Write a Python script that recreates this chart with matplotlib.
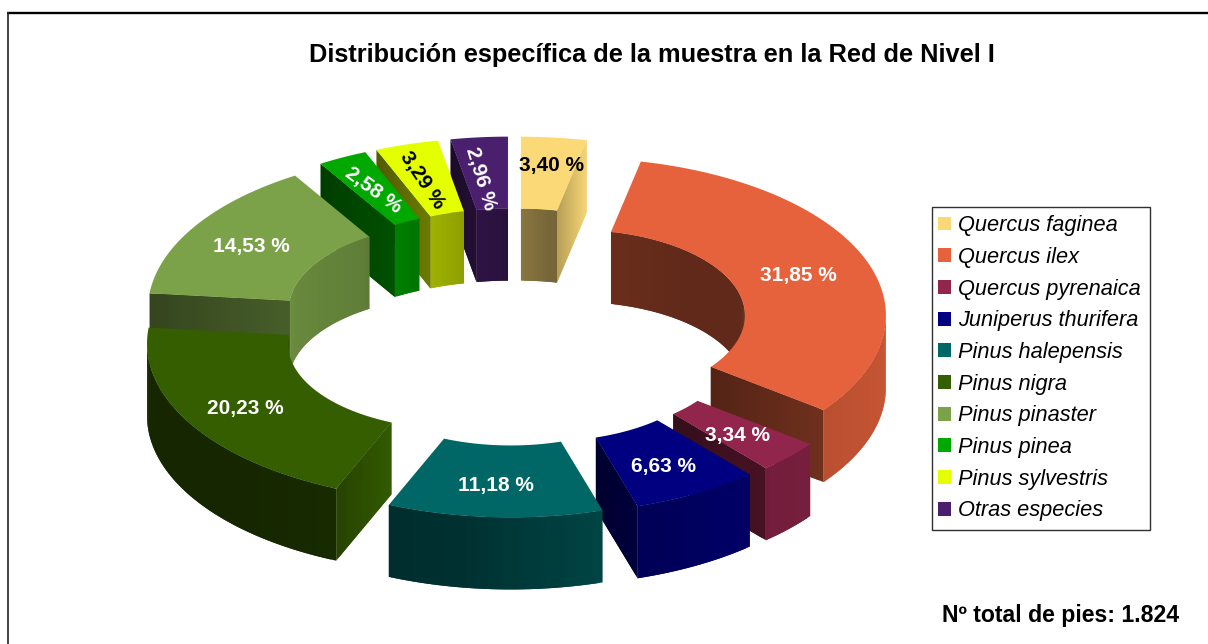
import numpy as np
import matplotlib
matplotlib.use("Agg")
import matplotlib.pyplot as plt
from matplotlib.collections import PolyCollection
from matplotlib.patches import Patch
from matplotlib.colors import to_rgb

species = ["Quercus faginea", "Quercus ilex", "Quercus pyrenaica", "Juniperus thurifera",
           "Pinus halepensis", "Pinus nigra", "Pinus pinaster", "Pinus pinea",
           "Pinus sylvestris", "Otras especies"]
percent = [3.40, 31.85, 3.34, 6.63, 11.18, 20.23, 14.53, 2.58, 3.29, 2.96]
colors = ["#FBD977", "#E5623C", "#92254B", "#000080", "#006666",
          "#355E00", "#7BA248", "#00A800", "#E3FF00", "#4A1F6E"]
label_colors = ["black", "white", "white", "white", "white",
                "white", "white", "white", "black", "white"]
label_rotation = [0, 0, 0, 0, 0, 0, 0, -36, -56, -73]
label_dx = [5, -2, 0, 1, -2, -6, -4, -1, -5, -5]
label_dy = [-8, 2, 3, 5, 4, 3, 1, 1, 1, 5]
title = "Distribución específica de la muestra en la Red de Nivel I"
total_note = "Nº total de pies: 1.824"

CX, CY = 514.0, 327.0
RX_OUT, RY_OUT = 311.0, 157.5
RX_IN, RY_IN = 170.0, 85.5
EX, EY = 65.0, 33.0
DEPTH = 72.0

plt.rcParams["font.family"] = ["Liberation Sans", "DejaVu Sans"]
fig = plt.figure(figsize=(12.08, 6.44), dpi=100)
ax = fig.add_axes([0, 0, 1, 1])
ax.set_xlim(0, 1208)
ax.set_ylim(644, 0)
ax.axis("off")


def brightness(normal):
    n = np.mod(normal, 360)
    return np.interp(n, [90, 145, 170, 190, 220, 270], [0.88, 0.78, 0.62, 0.47, 0.42, 0.42])


def shade(col, f):
    return tuple(min(1.0, c * f) for c in to_rgb(col))


def pt(t, rx, ry, ox, oy, z=0.0):
    a = np.radians(t)
    return (ox + rx * np.sin(a), oy - ry * np.cos(a) + z)


def wall_strip(ts, rx, ry, ox, oy, col, flip):
    """Quads along an arc; each reaches into the next so no seam shows through."""
    polys, cols = [], []
    for k in range(len(ts) - 1):
        a, b = ts[k], ts[k + 1]
        m = (a + b) / 2
        n = m + 180 if flip else m
        if np.cos(np.radians(n)) < 0:
            c = ts[min(k + 2, len(ts) - 1)]
            if np.cos(np.radians(c + 180 if flip else c)) >= 0:
                c = b
            polys.append([pt(a, rx, ry, ox, oy), pt(c, rx, ry, ox, oy),
                          pt(c, rx, ry, ox, oy, DEPTH), pt(a, rx, ry, ox, oy, DEPTH)])
            cols.append(shade(col, brightness(n)))
    return polys, cols


def faces_for(t0, t1, col):
    mid = np.radians((t0 + t1) / 2)
    ox = CX + EX * np.sin(mid)
    oy = CY - EY * np.cos(mid)
    ts = np.linspace(t0, t1, max(3, int((t1 - t0) / 1.0) + 2))
    polys, cols = wall_strip(ts, RX_IN, RY_IN, ox, oy, col, True)
    # radial cut faces, with a slight left-to-right gradient
    for t, normal in ((t0, t0 - 90), (t1, t1 + 90)):
        if np.cos(np.radians(normal)) < 0:
            fr = np.linspace(0, 1, 25)
            xo = pt(t, RX_OUT, RY_OUT, ox, oy)
            xi = pt(t, RX_IN, RY_IN, ox, oy)
            left_outer = xo[0] < xi[0]
            for j, (u, v) in enumerate(zip(fr[:-1], fr[1:])):
                w = fr[min(j + 2, len(fr) - 1)]
                pa = (xo[0] + (xi[0] - xo[0]) * u, xo[1] + (xi[1] - xo[1]) * u)
                pb = (xo[0] + (xi[0] - xo[0]) * w, xo[1] + (xi[1] - xo[1]) * w)
                polys.append([pa, pb, (pb[0], pb[1] + DEPTH), (pa[0], pa[1] + DEPTH)])
                um = (u + v) / 2
                g = um if left_outer else 1 - um
                cols.append(shade(col, brightness(normal) * (0.85 + 0.3 * g)))
    p2, c2 = wall_strip(ts, RX_OUT, RY_OUT, ox, oy, col, False)
    polys += p2
    cols += c2
    top = [pt(t, RX_OUT, RY_OUT, ox, oy) for t in ts] + [pt(t, RX_IN, RY_IN, ox, oy) for t in ts[::-1]]
    polys.append(top)
    cols.append(to_rgb(col))
    return polys, cols


total = sum(percent)
edges = np.concatenate([[0], np.cumsum(percent)]) / total * 360
order = np.argsort([-np.cos(np.radians((edges[i] + edges[i + 1]) / 2)) for i in range(len(percent))])
for z, i in enumerate(order):
    polys, cols = faces_for(edges[i], edges[i + 1], colors[i])
    pc = PolyCollection(polys, facecolors=cols, edgecolors="none", linewidths=0, zorder=2 + z * 0.01)
    pc.set_snap(False)
    ax.add_collection(pc)

for i, p in enumerate(percent):
    m = (edges[i] + edges[i + 1]) / 2
    a = np.radians(m)
    ox = CX + EX * np.sin(a)
    oy = CY - EY * np.cos(a)
    x, y = pt(m, (RX_OUT + RX_IN) / 2, (RY_OUT + RY_IN) / 2, ox, oy)
    ax.text(x + label_dx[i], y + label_dy[i], f"{p:.2f} %".replace(".", ","), color=label_colors[i],
            fontsize=15, fontweight="bold", rotation=label_rotation[i], rotation_mode="anchor",
            ha="center", va="center", zorder=5)

ax.text(652, 55, title, fontsize=18.25, fontweight="bold", ha="center", va="center", color="black")
ax.text(1061, 615.5, total_note, fontsize=16.6, fontweight="bold", ha="center", va="center", color="black")

handles = [Patch(facecolor=c, edgecolor="none") for c in colors]
leg = ax.legend(handles, species, loc="upper left", bbox_to_anchor=(932, 206.5), bbox_transform=ax.transData,
                borderaxespad=0, fancybox=False, framealpha=1, edgecolor="#303030",
                prop={"family": "Liberation Sans", "style": "italic", "size": 15.7},
                handlelength=0.6, handleheight=0.6, handletextpad=0.2, labelspacing=0.49,
                borderpad=0.40)
leg.get_frame().set_linewidth(1.0)
for h in leg.legend_handles:
    h.set_x(h.get_x() - 2.0)

ax.plot([7, 1208], [12.5, 12.5], color="black", lw=1.7, solid_capstyle="butt", zorder=1)
ax.plot([7.5, 7.5], [12, 644], color="#222222", lw=1.2, solid_capstyle="butt", zorder=1)

fig.savefig("out.png", dpi=100)
